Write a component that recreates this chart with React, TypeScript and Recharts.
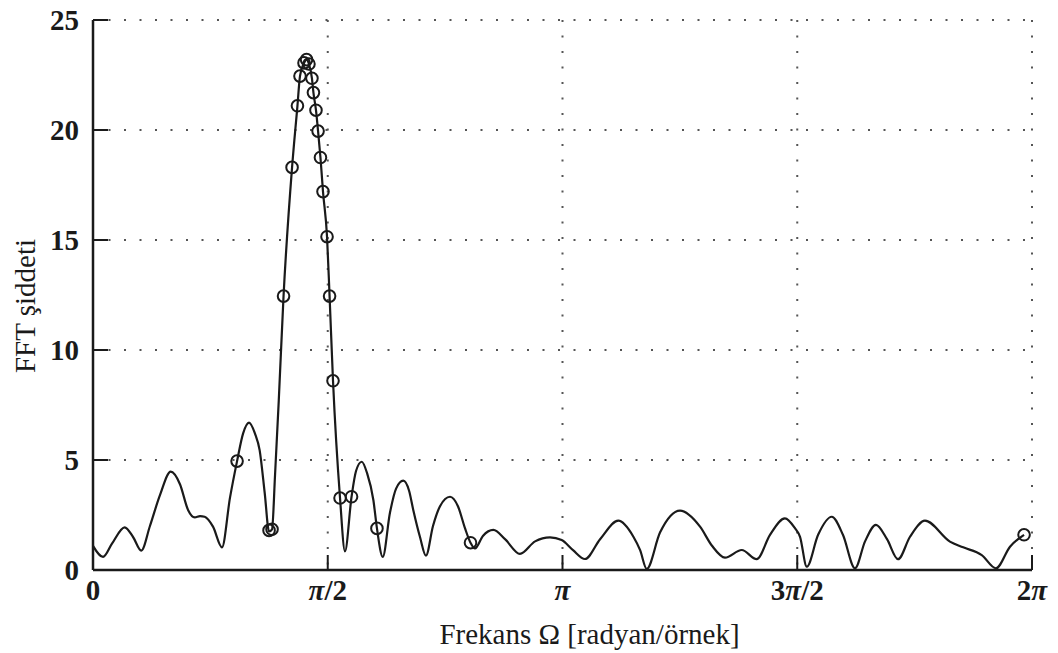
import React from 'react';
import { ComposedChart, Line, Scatter, XAxis, YAxis, CartesianGrid } from 'recharts';

const PI = Math.PI;

// x tick positions (radians) and their labels
const xTickValues = [0, PI / 2, PI, (3 * PI) / 2, 2 * PI];
const xTickLabels = ['0', 'π/2', 'π', '3π/2', '2π'];
const yTickValues = [0, 5, 10, 15, 20, 25];

// continuous FFT magnitude curve (radians, magnitude)
const curveOmega = [
  0, 0.067, 0.127, 0.212, 0.268, 0.323, 0.381, 0.448, 0.52, 0.582,
  0.636, 0.681, 0.716, 0.747, 0.803, 0.863, 0.917, 0.964, 1.004, 1.044,
  1.084, 1.115, 1.149, 1.178, 1.198, 1.218, 1.243, 1.275, 1.332, 1.368,
  1.385, 1.412, 1.429, 1.445, 1.465, 1.475, 1.492, 1.506, 1.522, 1.539,
  1.566, 1.583, 1.606, 1.653, 1.686, 1.73, 1.76, 1.798, 1.834, 1.876,
  1.9, 1.939, 1.987, 2.028, 2.076, 2.115, 2.143, 2.188, 2.228, 2.275,
  2.322, 2.389, 2.442, 2.489, 2.526, 2.556, 2.609, 2.679, 2.757, 2.857,
  2.958, 3.058, 3.136, 3.212, 3.292, 3.393, 3.515, 3.616, 3.661, 3.705,
  3.794, 3.928, 4.062, 4.142, 4.229, 4.341, 4.441, 4.53, 4.63, 4.697,
  4.731, 4.776, 4.852, 4.943, 5.018, 5.099, 5.166, 5.239, 5.313, 5.387,
  5.466, 5.567, 5.734, 5.823, 5.947, 6.042, 6.136, 6.23,
];
const curveMag = [
  1.1, 0.6, 1.2, 1.94, 1.5, 0.88, 2.0, 3.4, 4.47, 3.9,
  2.73, 2.39, 2.45, 2.42, 1.97, 1.03, 3.3, 4.95, 6.2, 6.7,
  6.2, 5.45, 3.5, 1.75, 1.85, 4.3, 7.7, 12.45, 18.3, 21.1,
  22.45, 23.05, 23.2, 23.0, 22.35, 21.7, 20.9, 19.95, 18.75, 17.2,
  15.15, 12.45, 8.6, 3.27, 0.85, 3.33, 4.5, 4.92, 4.4, 3.18,
  1.89, 0.6, 2.6, 3.7, 4.06, 3.6, 2.73, 1.5, 0.65, 2.0,
  2.9, 3.33, 2.9, 1.9, 1.24, 0.98, 1.55, 1.82, 1.4, 0.73,
  1.3, 1.48, 1.36, 0.9, 0.5, 1.4, 2.24, 1.51, 0.9, 0.05,
  1.7, 2.7, 1.97, 1.1, 0.56, 0.91, 0.49, 1.6, 2.35, 1.9,
  1.51, 0.15, 1.6, 2.42, 1.6, 0.08, 1.3, 2.05, 1.4, 0.49,
  1.5, 2.24, 1.29, 1.03, 0.68, 0.08, 1.06, 1.6,
];

// FFT sample markers (circles)
const markerOmega = [
  0.964, 1.178, 1.198, 1.275, 1.332, 1.368, 1.385, 1.412, 1.429, 1.445,
  1.465, 1.475, 1.492, 1.506, 1.522, 1.539, 1.566, 1.583, 1.606, 1.653,
  1.73, 1.9, 2.526, 6.23,
];
const markerMag = [
  4.95, 1.8, 1.85, 12.45, 18.3, 21.1, 22.45, 23.05, 23.2, 23.0,
  22.35, 21.7, 20.9, 19.95, 18.75, 17.2, 15.15, 12.45, 8.6, 3.27,
  3.33, 1.89, 1.24, 1.6,
];

const curveData = curveOmega.map((w, i) => ({ w, m: curveMag[i] }));
const markerData = markerOmega.map((w, i) => ({ w, m: markerMag[i] }));

const W = 1058;
const H = 653;
const TICK_LEN = 15;
const INK = '#1a1a1a';
const SERIF = 'Liberation Serif, Times New Roman, serif';
const tickStyle = { fontFamily: SERIF, fontWeight: 'bold' as const, fontSize: 29, fill: INK };
const labelStyle = { fontFamily: SERIF, fontWeight: 'normal' as const, fontSize: 29, fill: INK };

const labelFor = (v: number) => {
  const i = xTickValues.findIndex((t) => Math.abs(t - v) < 1e-6);
  return i >= 0 ? xTickLabels[i] : '';
};

const renderParts = (label: string) =>
  label.split('').map((ch, i) =>
    ch === 'π' ? (
      <tspan key={i} style={{ fontStyle: 'italic' }}>
        {ch}
      </tspan>
    ) : (
      <tspan key={i}>{ch}</tspan>
    )
  );

const BottomTick = (props: any) => {
  const { x, y, payload } = props;
  const base = y - 9;
  return (
    <g>
      <line x1={x} y1={base} x2={x} y2={base - TICK_LEN} stroke={INK} strokeWidth={2} />
      <text x={x} y={y} dy="0.74em" textAnchor="middle" style={tickStyle}>
        {renderParts(labelFor(payload.value))}
      </text>
    </g>
  );
};

const TopTick = (props: any) => {
  const { x, y } = props;
  return <line x1={x} y1={y} x2={x} y2={y + TICK_LEN} stroke={INK} strokeWidth={2} />;
};

const LeftTick = (props: any) => {
  const { x, y, payload } = props;
  const base = x + 14;
  return (
    <g>
      <line x1={base} y1={y} x2={base + TICK_LEN} y2={y} stroke={INK} strokeWidth={2} />
      <text x={x} y={y} dy="0.34em" textAnchor="end" style={tickStyle}>
        {payload.value}
      </text>
    </g>
  );
};

const RightTick = (props: any) => {
  const { x, y } = props;
  return <line x1={x} y1={y} x2={x - TICK_LEN} y2={y} stroke={INK} strokeWidth={2} />;
};

const Ring = (props: any) => {
  const { cx, cy } = props;
  return <circle cx={cx} cy={cy} r={5.8} fill="none" stroke={INK} strokeWidth={2} />;
};

const XLabel = (props: any) => {
  const vb = props.viewBox || { x: 93, y: 570, width: 939 };
  return (
    <text x={vb.x + vb.width / 2 + 27} y={vb.y + 74} textAnchor="middle" style={labelStyle}>
      Frekans Ω [radyan/örnek]
    </text>
  );
};

const YLabel = () => (
  <text
    x={35}
    y={306}
    transform="rotate(-90, 35, 306)"
    textAnchor="middle"
    style={labelStyle}
  >
    FFT şiddeti
  </text>
);

export default function App() {
  return (
    <div style={{ width: W, height: H, background: '#fff', margin: '-8px 0 0 -8px' }}>
      <ComposedChart
        width={W}
        height={H}
        margin={{ top: 20, right: 26, left: 33, bottom: 43 }}
      >
        <CartesianGrid
          stroke="#555"
          strokeWidth={2}
          strokeDasharray="2 13.5"
          horizontalValues={yTickValues}
          verticalValues={xTickValues}
        />
        <XAxis
          dataKey="w"
          type="number"
          domain={[0, 2 * PI]}
          ticks={xTickValues}
          allowDataOverflow
          height={40}
          tickSize={0}
          tickMargin={9}
          tickLine={false}
          axisLine={{ stroke: INK, strokeWidth: 2.5 }}
          tick={<BottomTick />}
          interval={0}
          label={<XLabel />}
        />
        <XAxis
          xAxisId="top"
          orientation="top"
          dataKey="w"
          type="number"
          domain={[0, 2 * PI]}
          ticks={xTickValues}
          height={0}
          tickSize={0}
          tickMargin={0}
          tickLine={false}
          axisLine={{ stroke: INK, strokeWidth: 2.5 }}
          tick={<TopTick />}
          interval={0}
        />
        <YAxis
          dataKey="m"
          type="number"
          domain={[0, 25]}
          ticks={yTickValues}
          width={60}
          tickSize={0}
          tickMargin={14}
          tickLine={false}
          axisLine={{ stroke: INK, strokeWidth: 2.5 }}
          tick={<LeftTick />}
          interval={0}
          label={<YLabel />}
        />
        <YAxis
          yAxisId="right"
          orientation="right"
          dataKey="m"
          type="number"
          domain={[0, 25]}
          ticks={yTickValues}
          width={0}
          tickSize={0}
          tickMargin={0}
          tickLine={false}
          axisLine={{ stroke: INK, strokeWidth: 2.5 }}
          tick={<RightTick />}
          interval={0}
        />
        <Line
          data={curveData}
          dataKey="m"
          type="monotone"
          stroke={INK}
          strokeWidth={2.2}
          dot={false}
          activeDot={false}
          isAnimationActive={false}
        />
        <Scatter
          data={markerData}
          dataKey="m"
          shape={<Ring />}
          isAnimationActive={false}
        />
      </ComposedChart>
    </div>
  );
}
